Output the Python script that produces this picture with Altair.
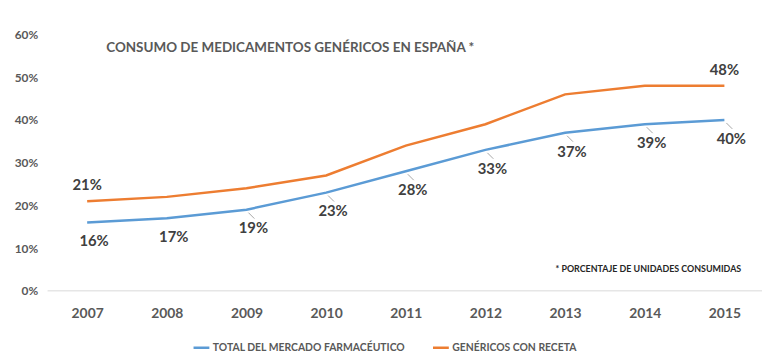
import altair as alt
import pandas as pd
import json

years = ["2007", "2008", "2009", "2010", "2011", "2012", "2013", "2014", "2015"]
total = [16, 17, 19, 23, 28, 33, 37, 39, 40]
genericos = [21, 22, 24, 27, 34, 39, 46, 48, 48]
s_total = "TOTAL DEL MERCADO FARMACÉUTICO"
s_gen = "GENÉRICOS CON RECETA"
orange_label_years = ["2007", "2015"]
leader_years = ["2009", "2010", "2011", "2012", "2013", "2014", "2015"]
y_ticks = [0, 10, 20, 30, 40, 50, 60]
title_text = "CONSUMO DE MEDICAMENTOS GENÉRICOS EN ESPAÑA *"
footnote = "* PORCENTAJE DE UNIDADES CONSUMIDAS"

rows = []
for y, t, g in zip(years, total, genericos):
    rows.append({"year": y, "series": s_total, "value": t,
                 "lead": y in leader_years, "olab": y in orange_label_years})
    rows.append({"year": y, "series": s_gen, "value": g,
                 "lead": False, "olab": y in orange_label_years})
df = pd.DataFrame(rows)

FONT = "Lato"
BLUE = "#5B9BD5"
ORANGE = "#ED7D31"

x_scale = alt.Scale(type="point", range=[40, 684], padding=0)
x_enc = alt.X("year:O", scale=x_scale,
              axis=alt.Axis(title=None, labelFontSize=14, labelFont=FONT, labelFontWeight="bold",
                            labelColor="#595959", ticks=False, domain=False, labelPadding=16,
                            labelAngle=0, grid=False))
y_enc = alt.Y("value:Q", scale=alt.Scale(domain=[0, 60]),
              axis=alt.Axis(title=None, values=y_ticks, labelExpr="datum.value + '%'",
                            labelFontSize=12, labelFont=FONT, labelFontWeight="bold",
                            labelColor="#595959", ticks=False, domain=False, grid=False,
                            labelPadding=10, labelFlush=False))

base = alt.Chart(df).transform_calculate(label="datum.value + '%'")

baseline = alt.Chart(pd.DataFrame({"v": [0]})).mark_rule(color="#d9d9d9", strokeWidth=1).encode(
    y=alt.Y("v:Q", scale=alt.Scale(domain=[0, 60])), x=alt.value(0), x2=alt.value(722))

lines = base.mark_line(strokeWidth=2.5).encode(
    x=x_enc, y=y_enc,
    color=alt.Color("series:N",
                    scale=alt.Scale(domain=[s_total, s_gen], range=[BLUE, ORANGE]),
                    legend=alt.Legend(title=None, orient="none", legendX=146, legendY=307,
                                      direction="horizontal", symbolType="stroke",
                                      symbolSize=256, symbolStrokeWidth=2.5, labelFont=FONT,
                                      labelFontSize=10.5, labelFontWeight="bold",
                                      labelColor="#595959", labelLimit=400, columnPadding=22,
                                      labelOffset=2)),
)

leaders = base.transform_filter("datum.lead").mark_rule(
    color="#a6a6a6", strokeWidth=1, xOffset=2, x2Offset=8, yOffset=3, y2Offset=9).encode(
    x="year:O", x2="year:O", y="value:Q", y2="value:Q")

blue_labels = base.transform_filter(f"datum.series == {json.dumps(s_total)}").mark_text(
    font=FONT, fontSize=15, fontWeight="bold", color="#404040", dx=7, dy=19).encode(
    x="year:O", y="value:Q", text="label:N")

orange_labels = base.transform_filter(
    f"datum.series == {json.dumps(s_gen)} && datum.olab"
).mark_text(font=FONT, fontSize=15, fontWeight="bold", color="#404040", dx=0, dy=-16).encode(
    x="year:O", y="value:Q", text="label:N")

note = alt.Chart(pd.DataFrame({"t": [footnote]})).mark_text(
    font=FONT, fontSize=9, fontWeight="bold", color="#262626", align="right").encode(
    x=alt.value(701), y=alt.value(237), text="t:N")

chart = alt.layer(baseline, lines, leaders, blue_labels, orange_labels, note).properties(
    width=714, height=259,
    padding={"left": 40, "top": 25, "right": 8, "bottom": 64},
    autosize=alt.AutoSizeParams(type="none"),
    title=alt.TitleParams(title_text, anchor="start", dx=93, dy=26, offset=0, fontSize=13.6,
                          font=FONT, fontWeight="bold", color="#595959"),
).configure(background="white").configure_view(stroke=None)

chart.save("out.html", embed_options={"renderer": "svg", "actions": False})
